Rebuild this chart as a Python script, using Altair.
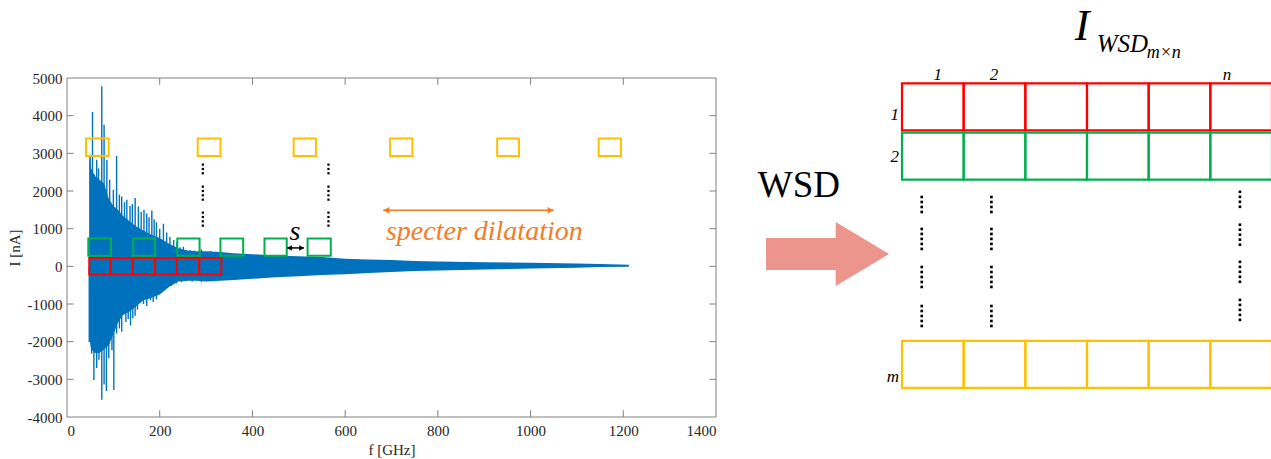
import altair as alt
import pandas as pd

FONT = "Liberation Serif"
BLUE = "#0072BD"
GRAY = "#808080"
TXT = "#262626"
RED = "#FF0000"
GREEN = "#00B050"
YELLOW = "#FFC000"
ORANGE = "#F57C22"
PINK = "#EC958D"

# ---------------- left panel: signal ----------------
f_core = [48, 52, 60, 70, 80, 90, 100, 110, 120, 135, 150, 165, 180, 200, 220, 240, 260,
          280, 300, 330, 360, 400, 450, 500, 550, 600, 650, 700, 750, 800, 900, 1000, 1100, 1150, 1212]
up_core = [2900, 2600, 2400, 2300, 2200, 1800, 1600, 1500, 1350, 1200, 1050, 950, 850, 750, 600, 480, 420,
           400, 400, 380, 350, 320, 290, 270, 250, 200, 180, 170, 140, 130, 110, 95, 75, 60, 40]
lo_core = [-1900, -2200, -2300, -2300, -2200, -2100, -1800, -1500, -1300, -1200, -1050, -900, -850, -750, -550, -400, -380,
           -380, -400, -380, -360, -330, -290, -260, -230, -210, -180, -150, -125, -110, -85, -60, -35, -20, -10]

spike_up_f = [50, 55, 59, 64, 68, 75, 80, 86, 92, 100, 107, 113, 118, 124, 129, 136, 141, 147, 154, 160, 166,
              172, 177, 183, 188, 193, 200, 208, 215, 222, 230, 237, 244, 251, 258, 266, 275, 290, 310]
spike_up_v = [2960, 4100, 2440, 2830, 2600, 4780, 3760, 2830, 2300, 2030, 2930, 1900, 1855, 1700, 1770, 1600, 1650, 1815,
              1590, 1450, 1500, 1400, 1300, 1480, 1250, 1170, 1000, 1130, 900, 780, 700, 650, 505, 520, 370, 430, 420, 450, 410]
spike_dn_f = [48, 53, 58, 64, 69, 75, 80, 85, 90, 97, 101, 107, 113, 118, 127, 132, 137, 142, 147, 152, 158, 165,
              172, 180, 186, 193, 203, 215, 225, 236, 247, 258, 270, 290, 310]
spike_dn_v = [-2010, -2320, -3020, -2700, -2480, -3540, -3140, -3310, -2440, -2230, -3280, -1785, -1650, -1740, -1480,
              -1400, -1570, -1380, -1310, -1150, -960, -1000, -1050, -900, -950, -880, -700, -570, -520, -450, -420,
              -380, -400, -420, -390]

x_ticks = [0, 200, 400, 600, 800, 1000, 1200, 1400]
y_ticks = [-4000, -3000, -2000, -1000, 0, 1000, 2000, 3000, 4000, 5000]

red_f0 = [48, 94, 142, 190, 237, 285]
red_f1 = [94, 142, 190, 237, 285, 333]
red_v = [-220, 223]
green_f0 = [46, 143, 238, 331, 426, 519]
green_f1 = [95, 190, 286, 380, 474, 569]
green_v = [283, 737]
yellow_f0 = [41, 282, 489, 697, 928, 1147]
yellow_f1 = [90, 331, 537, 745, 975, 1195]
yellow_v = [2926, 3396]

dots_left_f = [293, 564]
dots_left_top = [2700, 2115, 1425]
dots_left_n = [3, 4, 4]
dots_left_step = 115

s_label_f, s_label_v = 492, 709
s_arrow_f = [475, 511]
s_arrow_v = 489
dil_arrow_f = [682, 1050]
dil_arrow_v = 1488
dil_text_f, dil_text_v = 688, 709

# ---------------- right panel: the WSD matrix (column / row units) ----------------
n_cols = 6
row_top = [0.0, 1.05, 5.48]
row_colors = [RED, GREEN, YELLOW]
row_labels = ["1", "2", "m"]
row_label_y = [0.67, 1.57, 6.24]
col_labels = ["1", "2", "n"]
col_label_x = [0.58, 1.49, 5.27]
col_label_y = -0.18
dots_right_x = [0.32, 1.45, 5.48]
dots_right_top = [[2.42, 3.10, 3.91, 4.74], [2.42, 3.10, 3.91, 4.74], [2.31, 3.01, 3.80, 4.61]]
dots_right_n = [4, 5, 5, 5]
dots_right_step = 0.106

# block arrow outline (normalised units)
arrow_x = [0.0, 0.566, 0.567, 1.0]
arrow_top = [0.5, 0.5, 1.0, 0.0]
arrow_bot = [-0.5, -0.5, -1.0, 0.0]

# ---------------- scales / axes ----------------
XS = alt.Scale(domain=[0, 1400], range=[67, 716], nice=False, zero=False)
YS = alt.Scale(domain=[-4000, 5000], range=[417, 78], nice=False, zero=False)
X_AX = alt.Axis(orient="bottom", offset=-42, values=x_ticks, ticks=False, domain=False, grid=False,
                labelFont=FONT, labelFontSize=15, labelColor=TXT, labelPadding=6,
                labelExpr="'' + datum.value",
                title="f [GHz]", titleFont=FONT, titleFontSize=15, titleFontWeight="normal",
                titleColor=TXT, titlePadding=4)
Y_AX = alt.Axis(orient="left", offset=-67, values=y_ticks, ticks=False, domain=False, grid=False,
                labelFont=FONT, labelFontSize=15, labelColor=TXT, labelPadding=5,
                labelExpr="'' + datum.value",
                title="I [nA]", titleFont=FONT, titleFontSize=15, titleFontWeight="normal",
                titleColor=TXT, titlePadding=5)


def LX(field):
    return alt.X(field, type="quantitative", scale=XS, axis=X_AX)


def LY(field):
    return alt.Y(field, type="quantitative", scale=YS, axis=Y_AX)


core_df = pd.DataFrame({"f": f_core, "up": up_core, "lo": lo_core})
spk_df = pd.DataFrame({"f": spike_up_f + spike_dn_f, "v": spike_up_v + spike_dn_v,
                       "b": [0] * (len(spike_up_f) + len(spike_dn_f))})

area = alt.Chart(core_df).mark_area(color=BLUE, interpolate="linear").encode(
    x=LX("f"), y=LY("up"), y2=alt.Y2("lo"))
spikes = alt.Chart(spk_df).mark_rule(color=BLUE, strokeWidth=1.4).encode(
    x=LX("f"), y=LY("v"), y2=alt.Y2("b"))

frame_df = pd.DataFrame({"x0": [x_ticks[0]], "x1": [x_ticks[-1]], "y0": [y_ticks[0]], "y1": [y_ticks[-1]]})
frame = alt.Chart(frame_df).mark_rect(fill="white", fillOpacity=0, stroke=GRAY, strokeWidth=1).encode(
    x=LX("x0"), x2=alt.X2("x1"), y=LY("y0"), y2=alt.Y2("y1"))

TLY = 180   # tick length in nA units
TLX = 14    # tick length in GHz units
tk = []
for t in x_ticks[1:-1]:
    tk.append((t, t, y_ticks[0], y_ticks[0] + TLY))
    tk.append((t, t, y_ticks[-1], y_ticks[-1] - TLY))
for t in y_ticks[1:-1]:
    tk.append((x_ticks[0], x_ticks[0] + TLX, t, t))
    tk.append((x_ticks[-1], x_ticks[-1] - TLX, t, t))
tick_df = pd.DataFrame(tk, columns=["xa", "xb", "ya", "yb"])
ticks = alt.Chart(tick_df).mark_rule(color=GRAY, strokeWidth=1).encode(
    x=LX("xa"), x2=alt.X2("xb"), y=LY("ya"), y2=alt.Y2("yb"))

bx = []
for a, b in zip(red_f0, red_f1):
    bx.append((a, b, red_v[0], red_v[1], RED))
for a, b in zip(green_f0, green_f1):
    bx.append((a, b, green_v[0], green_v[1], GREEN))
for a, b in zip(yellow_f0, yellow_f1):
    bx.append((a, b, yellow_v[0], yellow_v[1], YELLOW))
box_df = pd.DataFrame(bx, columns=["f0", "f1", "v0", "v1", "c"])
boxes = alt.Chart(box_df).mark_rect(fill="white", fillOpacity=0, strokeWidth=2).encode(
    x=LX("f0"), x2=alt.X2("f1"), y=LY("v0"), y2=alt.Y2("v1"), stroke=alt.Stroke("c:N", scale=None))

dl = []
for xf in dots_left_f:
    for top, n in zip(dots_left_top, dots_left_n):
        for k in range(n):
            dl.append((xf, top - k * dots_left_step))
dl_df = pd.DataFrame(dl, columns=["f", "v"])
dots_l = alt.Chart(dl_df).mark_square(size=5, color="black", opacity=1).encode(x=LX("f"), y=LY("v"))

s_txt = alt.Chart(pd.DataFrame({"f": [s_label_f], "v": [s_label_v], "t": ["s"]})).mark_text(
    font=FONT, fontStyle="italic", fontSize=28, color="black", align="center", baseline="alphabetic").encode(
    x=LX("f"), y=LY("v"), text="t:N")

arr_df = pd.DataFrame({"f0": [s_arrow_f[0], dil_arrow_f[0]], "f1": [s_arrow_f[1], dil_arrow_f[1]],
                       "v": [s_arrow_v, dil_arrow_v], "c": ["black", ORANGE], "w": [1.5, 1.5]})
arr_lines = alt.Chart(arr_df).mark_rule().encode(
    x=LX("f0"), x2=alt.X2("f1"), y=LY("v"), color=alt.Color("c:N", scale=None),
    strokeWidth=alt.StrokeWidth("w:Q", scale=None))
head_df = pd.DataFrame({
    "f": [s_arrow_f[0] + 5, s_arrow_f[1] - 5, dil_arrow_f[0] + 7, dil_arrow_f[1] - 7],
    "v": [s_arrow_v, s_arrow_v, dil_arrow_v, dil_arrow_v],
    "shp": ["triangle-left", "triangle-right", "triangle-left", "triangle-right"],
    "c": ["black", "black", ORANGE, ORANGE],
    "sz": [30, 30, 45, 45]})
heads = alt.Chart(head_df).mark_point(filled=True, opacity=1).encode(
    x=LX("f"), y=LY("v"), shape=alt.Shape("shp:N", scale=None), color=alt.Color("c:N", scale=None),
    size=alt.Size("sz:Q", scale=None))

dil_txt = alt.Chart(pd.DataFrame({"f": [dil_text_f], "v": [dil_text_v], "t": ["specter dilatation"]})).mark_text(
    font=FONT, fontStyle="italic", fontSize=28, color=ORANGE, align="left", baseline="alphabetic").encode(
    x=LX("f"), y=LY("v"), text="t:N")

left = alt.layer(area, spikes, boxes, frame, ticks, dots_l, s_txt, arr_lines, heads, dil_txt)

# ---------------- right panel ----------------
CX = alt.Scale(domain=[0, 6], range=[902, 1272], nice=False, zero=False)
RY = alt.Scale(domain=[0, 6.48], range=[83.3, 387.8], nice=False, zero=False)


def RXe(field):
    return alt.X(field, type="quantitative", scale=CX, axis=None)


def RYe(field):
    return alt.Y(field, type="quantitative", scale=RY, axis=None)


cells = []
for top, col in zip(row_top, row_colors):
    for c in range(n_cols):
        cells.append((c, c + 1, top, top + 1, col))
cell_df = pd.DataFrame(cells, columns=["c0", "c1", "r0", "r1", "col"])
cell_layer = alt.Chart(cell_df).mark_rect(fill="white", fillOpacity=0, strokeWidth=2.2).encode(
    x=RXe("c0"), x2=alt.X2("c1"), y=RYe("r0"), y2=alt.Y2("r1"), stroke=alt.Stroke("col:N", scale=None))

rl_df = pd.DataFrame({"x": [-0.05] * 3, "y": row_label_y, "t": row_labels})
row_lab = alt.Chart(rl_df).mark_text(font=FONT, fontStyle="italic", fontSize=17, color="black",
                                      align="right", baseline="middle").encode(
    x=RXe("x"), y=RYe("y"), text="t:N")
cl_df = pd.DataFrame({"x": col_label_x, "y": [col_label_y] * 3, "t": col_labels})
col_lab = alt.Chart(cl_df).mark_text(font=FONT, fontStyle="italic", fontSize=17, color="black",
                                      align="center", baseline="middle").encode(
    x=RXe("x"), y=RYe("y"), text="t:N")

dr = []
for xc, tops in zip(dots_right_x, dots_right_top):
    for top, n in zip(tops, dots_right_n):
        for k in range(n):
            dr.append((xc, top + k * dots_right_step))
dr_df = pd.DataFrame(dr, columns=["x", "y"])
dots_r = alt.Chart(dr_df).mark_square(size=7, color="black", opacity=1).encode(x=RXe("x"), y=RYe("y"))

title_df = pd.DataFrame({"x": [2.80, 3.157, 3.968], "y": [-0.921, -0.672, -0.53],
                         "t": ["I", "WSD", "m×n"], "fs": [44, 25, 18]})
title_layer = alt.Chart(title_df).mark_text(font=FONT, fontStyle="italic", color="black",
                                            align="left", baseline="alphabetic").encode(
    x=RXe("x"), y=RYe("y"), text="t:N", size=alt.Size("fs:Q", scale=None))

right = alt.layer(cell_layer, row_lab, col_lab, dots_r, title_layer)

# ---------------- middle: WSD arrow ----------------
AX = alt.Scale(domain=[0, 1], range=[766, 889], nice=False, zero=False)
AY = alt.Scale(domain=[-1, 1], range=[286, 222], nice=False, zero=False)
arrow_df = pd.DataFrame({"x": arrow_x, "top": arrow_top, "bot": arrow_bot})
arrow = alt.Chart(arrow_df).mark_area(color=PINK, interpolate="linear", opacity=1).encode(
    x=alt.X("x:Q", scale=AX, axis=None), y=alt.Y("top:Q", scale=AY, axis=None), y2=alt.Y2("bot"))
wsd = alt.Chart(pd.DataFrame({"x": [0.268], "y": [1.78], "t": ["WSD"]})).mark_text(
    font=FONT, fontSize=37, color="black", align="center", baseline="alphabetic").encode(
    x=alt.X("x:Q", scale=AX, axis=None), y=alt.Y("y:Q", scale=AY, axis=None), text="t:N")
middle = alt.layer(arrow, wsd)

chart = alt.layer(left, right, middle).resolve_scale(x="independent", y="independent").properties(
    width=1271, height=459, autosize=alt.AutoSizeParams(type="none"), padding=0,
    background="white").configure_view(stroke=None)

chart.save("out.html", embed_options={"renderer": "svg", "actions": False})
